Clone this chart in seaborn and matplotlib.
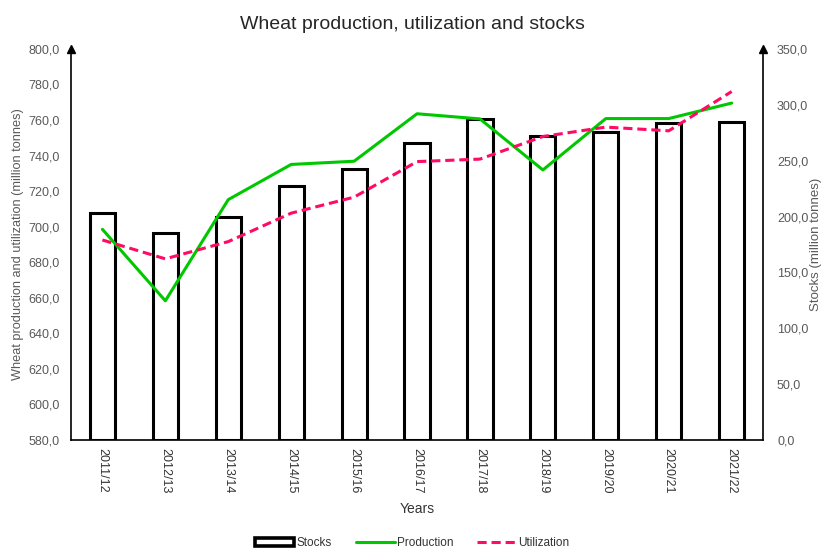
import numpy as np
import pandas as pd
import matplotlib
matplotlib.use("Agg")
import matplotlib.pyplot as plt
from matplotlib.ticker import FuncFormatter, MultipleLocator
from matplotlib.patches import Patch
from matplotlib.lines import Line2D
import seaborn as sns

years = ["2011/12", "2012/13", "2013/14", "2014/15", "2015/16", "2016/17",
         "2017/18", "2018/19", "2019/20", "2020/21", "2021/22"]
production = [698.5, 658.3, 715.2, 735.0, 736.8, 763.5, 760.6, 731.9, 760.8, 760.8, 769.5]
utilization = [692.5, 681.9, 691.6, 707.6, 716.6, 736.6, 738.0, 750.7, 756.0, 753.9, 776.0]
stocks = [203.0, 185.0, 200.0, 227.4, 242.6, 265.6, 287.4, 272.0, 275.5, 283.5, 284.4]

GREEN = "#00c800"
PINK = "#ff0a64"
GREY = "#595959"


def comma_fmt(v, pos):
    return f"{v:.1f}".replace(".", ",")


def main():
    sns.set_style("white")
    plt.rcParams["font.family"] = ["Liberation Sans", "DejaVu Sans"]

    df = pd.DataFrame({"year": years, "production": production,
                       "utilization": utilization, "stocks": stocks})

    fig = plt.figure(figsize=(8.25, 5.49), dpi=100)
    ax = fig.add_axes([0.086, 0.1985, 0.839, 0.7125])
    ax2 = ax.twinx()

    # stocks bars on the secondary axis, drawn below the lines
    sns.barplot(data=df, x="year", y="stocks", ax=ax2, color="white",
                edgecolor="black", linewidth=2.2, width=0.4, saturation=1)
    sns.lineplot(data=df, x="year", y="production", ax=ax, color=GREEN,
                 linewidth=2.2, sort=False)
    sns.lineplot(data=df, x="year", y="utilization", ax=ax, color=PINK,
                 linewidth=2.2, linestyle=(0, (3, 1.6)), sort=False)

    ax.set_zorder(ax2.get_zorder() + 1)
    ax.patch.set_visible(False)

    ax.set_xlim(-0.5, len(years) - 0.5)
    ax.set_ylim(580, 800)
    ax2.set_ylim(0, 350)
    ax.yaxis.set_major_locator(MultipleLocator(20))
    ax2.yaxis.set_major_locator(MultipleLocator(50))
    ax.yaxis.set_major_formatter(FuncFormatter(comma_fmt))
    ax2.yaxis.set_major_formatter(FuncFormatter(comma_fmt))

    for a in (ax, ax2):
        a.tick_params(length=0, labelsize=9, labelcolor=GREY)
        a.spines["top"].set_visible(False)
        for s in ("left", "right", "bottom"):
            a.spines[s].set_color("black")
            a.spines[s].set_linewidth(1.2)
    ax.spines["right"].set_visible(False)
    ax2.spines["left"].set_visible(False)
    ax2.spines["bottom"].set_visible(False)
    ax.tick_params(axis="y", pad=8)
    ax2.tick_params(axis="y", pad=10)

    ax.tick_params(axis="x", rotation=270, labelsize=9, labelcolor="#333333", pad=6)
    ax.set_xlabel("Years", fontsize=10, color="#333333", labelpad=6)
    ax.set_ylabel("Wheat production and utilization (million tonnes)",
                  fontsize=9.2, color=GREY, labelpad=3)
    ax2.set_ylabel("Stocks (million tonnes)", fontsize=9.5, color=GREY, labelpad=1)
    ax2.set_xlabel("")

    # arrow heads on top of both vertical axes
    ax.plot(0, 1, marker="^", color="black", markersize=6,
            transform=ax.transAxes, clip_on=False)
    ax.plot(1, 1, marker="^", color="black", markersize=6,
            transform=ax.transAxes, clip_on=False)

    fig.suptitle("Wheat production, utilization and stocks", fontsize=14,
                 color="#262626", y=0.97)

    handles = [
        Patch(facecolor="white", edgecolor="black", linewidth=2.6),
        Line2D([0], [0], color=GREEN, linewidth=2.2),
        Line2D([0], [0], color=PINK, linewidth=2.2, linestyle=(0, (3, 1.6))),
    ]
    fig.legend(handles, ["Stocks", "Production", "Utilization"],
               loc="lower center", bbox_to_anchor=(0.5, -0.02), ncol=3,
               frameon=False, fontsize=8.5, handlelength=3.3,
               handletextpad=0.2, columnspacing=2.0, labelcolor="#333333")

    fig.savefig("out.png", dpi=100)


if __name__ == "__main__":
    main()
